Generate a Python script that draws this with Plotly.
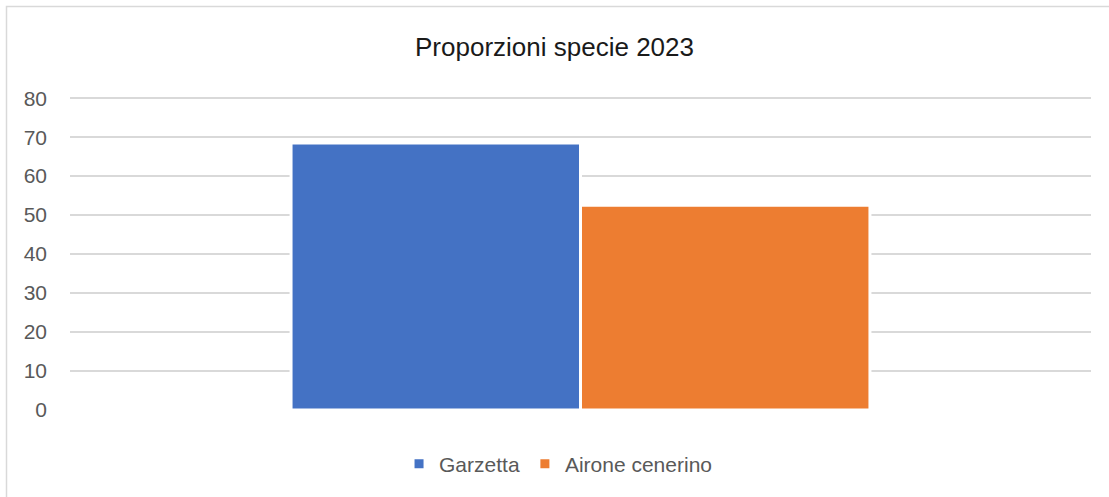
import plotly.graph_objects as go

category = ["2023"]
series_names = ["Garzetta", "Airone cenerino"]
garzetta = [68.5]
airone_cenerino = [52.5]
y_ticks = [0, 10, 20, 30, 40, 50, 60, 70, 80]

colors = ["#4472C4", "#ED7D31"]
font_family = "Liberation Sans, Arial, sans-serif"

W, H = 1109, 497
Y_TOP = 80.3  # a bit above 80 so the top gridline is drawn
px_per_unit = (410 - 98.5) / 80
M_L, M_R, M_B = 70, 18, 87
M_T = round(410 - Y_TOP * px_per_unit)
plot_w = W - M_L - M_R
plot_h = H - M_T - M_B

fig = go.Figure()
for name, vals, col in zip(series_names, [garzetta, airone_cenerino], colors):
    fig.add_trace(
        go.Bar(
            x=category,
            y=vals,
            name=name,
            marker=dict(color=col, line=dict(color="white", width=3)),
        )
    )

# light grey chart border (only top/left visible in the crop)
fig.add_shape(
    type="rect",
    xref="paper", yref="paper",
    x0=(6.5 - M_L) / plot_w, x1=(W + 20 - M_L) / plot_w,
    y0=-(M_B + 20) / plot_h, y1=1 + (M_T - 6.5) / plot_h,
    line=dict(color="#D9D9D9", width=1.5),
    fillcolor="rgba(0,0,0,0)",
    layer="below",
)

fig.update_layout(
    width=W,
    height=H,
    margin=dict(l=M_L, r=M_R, t=M_T, b=M_B),
    paper_bgcolor="white",
    plot_bgcolor="white",
    barmode="group",
    bargap=0.433,
    bargroupgap=0,
    font=dict(family=font_family, color="#595959", size=21),
    title=dict(
        text="Proporzioni specie 2023",
        x=0.5,
        xref="container",
        xanchor="center",
        y=1 - 47 / H,
        yanchor="middle",
        font=dict(size=26, color="#1a1a1a", family=font_family),
    ),
    xaxis=dict(showticklabels=False, showgrid=False, showline=False, zeroline=False),
    yaxis=dict(
        range=[0, Y_TOP],
        tickvals=y_ticks,
        showgrid=True,
        gridcolor="#D9D9D9",
        gridwidth=1.5,
        zeroline=False,
        showline=False,
        ticks="",
        ticklabelstandoff=22,
        tickfont=dict(size=21, color="#595959"),
    ),
    legend=dict(
        orientation="h",
        x=0.478,
        xanchor="center",
        y=(410 - 464) / plot_h,
        yanchor="middle",
        font=dict(size=21, color="#595959"),
        itemwidth=30,
        traceorder="normal",
    ),
)

fig.write_html(
    "out.html",
    config={"displayModeBar": False},
    post_script="document.body.style.margin='0';",
)
